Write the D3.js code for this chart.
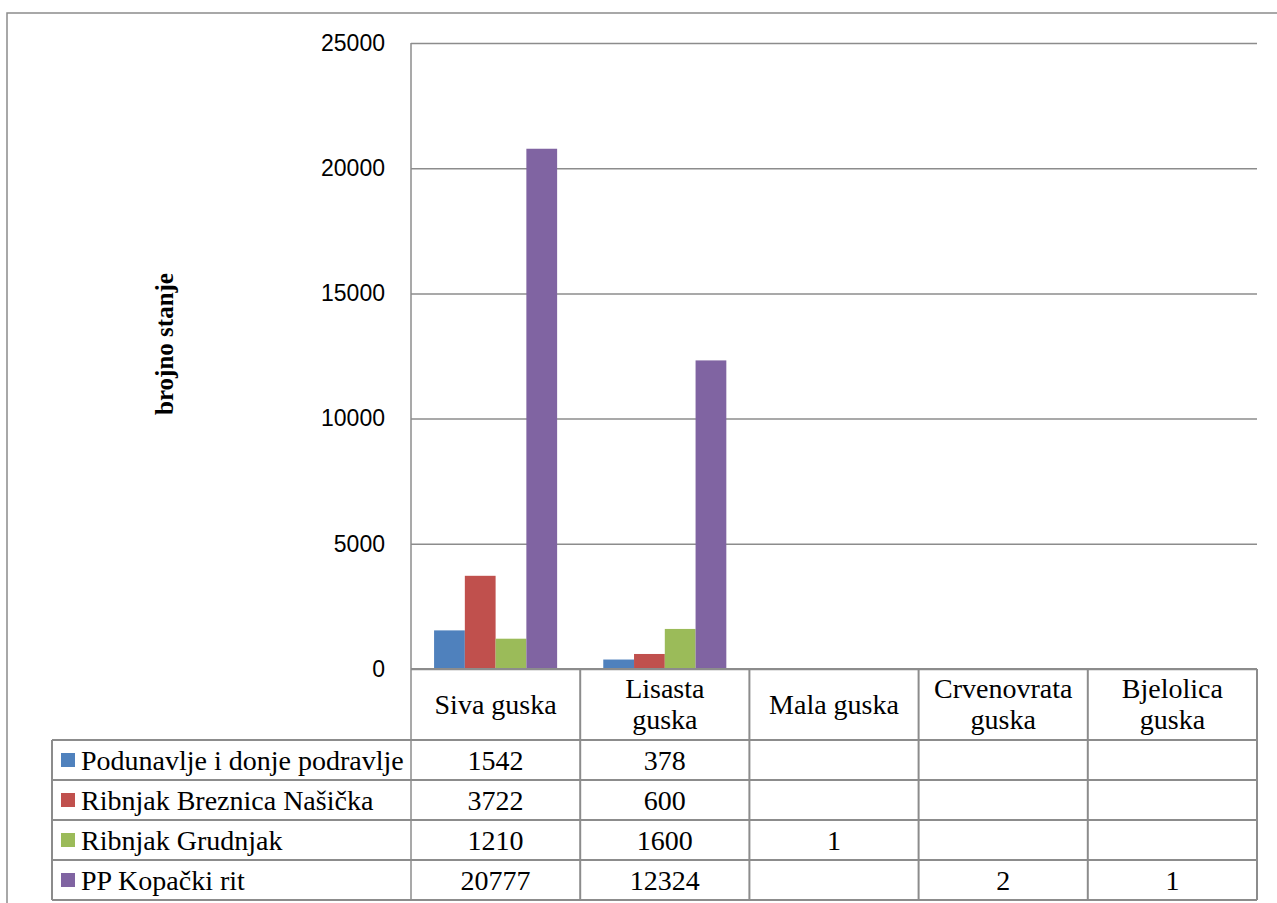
<!DOCTYPE html>
<html>
<head>
<meta charset="utf-8">
<script src="https://cdn.jsdelivr.net/npm/d3@7"></script>
<style>
  body { margin: 0; background: #fff; }
  svg { display: block; }
</style>
</head>
<body>
<div id="chart"></div>
<script>
// data
var categories = ["Siva guska", "Lisasta guska", "Mala guska", "Crvenovrata guska", "Bjelolica guska"];
var categoryLines = [["Siva guska"], ["Lisasta", "guska"], ["Mala guska"], ["Crvenovrata", "guska"], ["Bjelolica", "guska"]];
var seriesNames = ["Podunavlje i donje podravlje", "Ribnjak Breznica Našička", "Ribnjak Grudnjak", "PP Kopački rit"];
var podunavlje = [1542, 378, null, null, null];
var breznica = [3722, 600, null, null, null];
var grudnjak = [1210, 1600, 1, null, null];
var kopacki = [20777, 12324, null, 2, 1];
var yTicks = [0, 5000, 10000, 15000, 20000, 25000];
var seriesColors = ["#4F81BD", "#C0504D", "#9BBB59", "#8064A2"];

var seriesValues = [podunavlje, breznica, grudnjak, kopacki];

var W = 1277, H = 903;
var plotLeft = 411, plotRight = 1257, plotTop = 43, plotBottom = 669;
var headerBottom = 740, rowH = 40, tableLeft = 52;
var gray = "#8c8c8c";
var serif = "'Liberation Serif', 'Times New Roman', serif";

var svg = d3.select("#chart").append("svg")
	.attr("width", W)
	.attr("height", H);

// outer frame (runs off the right and bottom edge)
svg.append("rect")
	.attr("x", 7)
	.attr("y", 13)
	.attr("width", 1400)
	.attr("height", 1000)
	.style("fill", "none")
	.style("stroke", gray)
	.style("stroke-width", 1.5);

var xScale = d3.scaleBand()
	.domain(categories)
	.range([plotLeft, plotRight]);

// gap between groups = 150% of a bar, half on each side
var x1Scale = d3.scaleBand()
	.domain(seriesNames)
	.range([0, xScale.bandwidth()])
	.paddingInner(0)
	.paddingOuter(0.75);

var yScale = d3.scaleLinear()
	.domain([0, 25000])
	.range([plotBottom, plotTop]);

// gridlines
svg.append("g")
	.attr("transform", "translate(" + plotLeft + ",0)")
	.call(d3.axisLeft(yScale).tickValues(yTicks).tickSize(-(plotRight - plotLeft)).tickFormat(""))
	.call(function(g) {
		g.select(".domain").remove();
		g.selectAll("line").style("stroke", gray).style("stroke-width", 1.5);
	});

// tick labels
svg.append("g")
	.attr("transform", "translate(385,0)")
	.call(d3.axisLeft(yScale).tickValues(yTicks).tickSize(0).tickPadding(0).tickFormat(d3.format("d")))
	.call(function(g) {
		g.select(".domain").remove();
		g.selectAll("text")
			.style("font-family", "'Liberation Sans', Arial, sans-serif")
			.style("font-size", "23px")
			.style("fill", "#000");
	});

// y axis line
svg.append("line")
	.attr("x1", plotLeft).attr("x2", plotLeft)
	.attr("y1", plotTop).attr("y2", 900)
	.style("stroke", gray).style("stroke-width", 1.5);

// axis title
svg.append("text")
	.attr("transform", "translate(173,344) rotate(-90)")
	.attr("text-anchor", "middle")
	.style("font-family", serif)
	.style("font-weight", "bold")
	.style("font-size", "25px")
	.text("brojno stanje");

// bars
var groups = svg.append("g").selectAll("g")
	.data(seriesNames)
	.enter().append("g")
		.style("fill", function(d, i) { return seriesColors[i]; });

groups.selectAll("rect")
	.data(function(d, i) {
		return categories.map(function(c, j) {
			return { series: d, cat: c, value: seriesValues[i][j] };
		}).filter(function(e) { return e.value != null; });
	})
	.enter().append("rect")
		.attr("x", function(d) { return xScale(d.cat) + x1Scale(d.series); })
		.attr("width", x1Scale.bandwidth())
		.attr("y", function(d) { return yScale(d.value); })
		.attr("height", function(d) { return plotBottom - yScale(d.value); });

// table grid
var rowTops = seriesNames.map(function(d, i) { return headerBottom + i * rowH; });
var tableBottom = headerBottom + seriesNames.length * rowH;

svg.append("line")
	.attr("x1", plotLeft).attr("x2", plotRight)
	.attr("y1", plotBottom).attr("y2", plotBottom)
	.style("stroke", gray).style("stroke-width", 2);

svg.append("g").selectAll("line")
	.data(rowTops.concat([tableBottom]))
	.enter().append("line")
		.attr("x1", tableLeft).attr("x2", plotRight)
		.attr("y1", function(d) { return d; }).attr("y2", function(d) { return d; })
		.style("stroke", gray).style("stroke-width", 2);

svg.append("g").selectAll("line")
	.data(categories)
	.enter().append("line")
		.attr("x1", function(d) { return xScale(d) + xScale.bandwidth(); })
		.attr("x2", function(d) { return xScale(d) + xScale.bandwidth(); })
		.attr("y1", plotBottom).attr("y2", tableBottom)
		.style("stroke", gray).style("stroke-width", 2);

svg.append("line")
	.attr("x1", tableLeft).attr("x2", tableLeft)
	.attr("y1", headerBottom).attr("y2", tableBottom)
	.style("stroke", gray).style("stroke-width", 2);

// header labels
svg.append("g").selectAll("text")
	.data(categories)
	.enter().append("text")
		.attr("text-anchor", "middle")
		.style("font-family", serif)
		.style("font-size", "28px")
		.each(function(d, i) {
			var lines = categoryLines[i];
			var cx = xScale(d) + xScale.bandwidth() / 2;
			var first = (plotBottom + headerBottom) / 2 + 9 - (lines.length - 1) * 15.5;
			var t = d3.select(this);
			lines.forEach(function(l, k) {
				t.append("tspan").attr("x", cx).attr("y", first + k * 31).text(l);
			});
		});

// legend rows with values
var legendRows = svg.append("g").selectAll("g")
	.data(seriesNames)
	.enter().append("g")
		.attr("transform", function(d, i) { return "translate(0," + rowTops[i] + ")"; });

legendRows.append("rect")
	.attr("x", 61)
	.attr("y", rowH / 2 - 7)
	.attr("width", 14)
	.attr("height", 14)
	.style("fill", function(d, i) { return seriesColors[i]; });

legendRows.append("text")
	.attr("x", 81)
	.attr("y", rowH / 2 + 10)
	.style("font-family", serif)
	.style("font-size", "28px")
	.text(function(d) { return d; });

legendRows.selectAll("text.val")
	.data(function(d, i) { return seriesValues[i].map(function(v, j) { return { v: v, cat: categories[j] }; }); })
	.enter().append("text")
		.attr("class", "val")
		.attr("x", function(d) { return xScale(d.cat) + xScale.bandwidth() / 2; })
		.attr("y", rowH / 2 + 10)
		.attr("text-anchor", "middle")
		.style("font-family", serif)
		.style("font-size", "28px")
		.text(function(d) { return d.v == null ? "" : d.v; });
</script>
</body>
</html>
